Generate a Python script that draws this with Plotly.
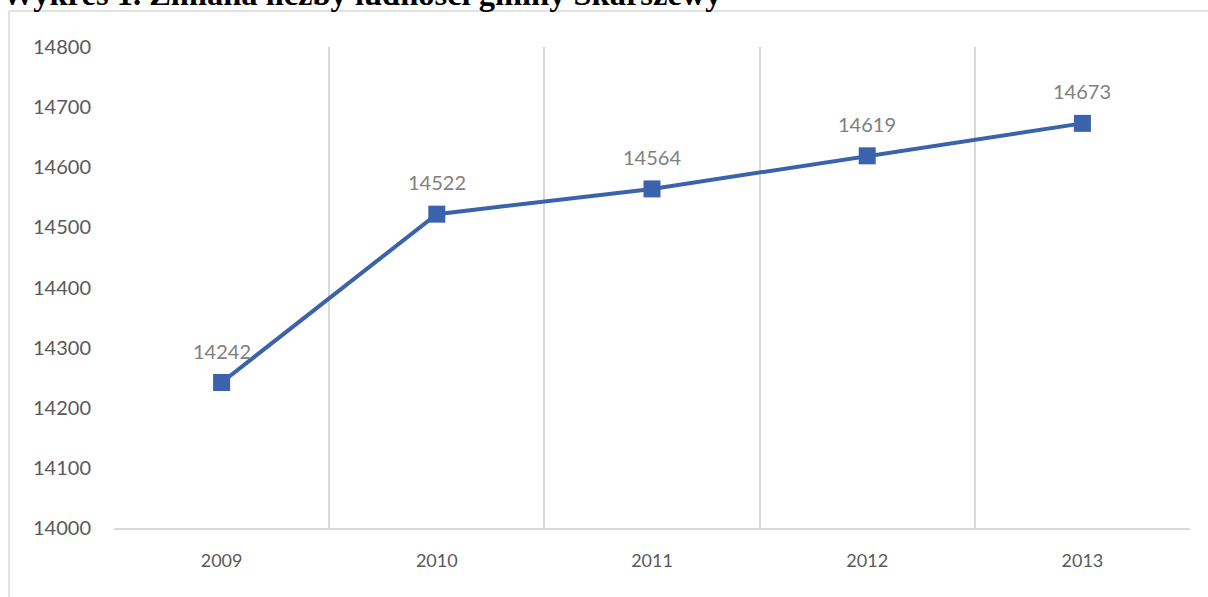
import plotly.graph_objects as go

years = ["2009", "2010", "2011", "2012", "2013"]
population = [14242, 14522, 14564, 14619, 14673]
y_ticks = [14000, 14100, 14200, 14300, 14400, 14500, 14600, 14700, 14800]
title_text = "Wykres 1. Zmiana liczby ludności gminy Skarszewy"

W, H = 1208, 597
L, R, T, B = 114, 18, 47, 69
pw, ph = W - L - R, H - T - B

def px_x(p):
    return (p - L) / pw

def px_y(p):
    return (H - B - p) / ph

line_color = "#3a62ad"
grid_color = "#d9d9d9"
font_family = "Lato, 'Open Sans', sans-serif"

fig = go.Figure()
fig.add_trace(go.Scatter(
    x=years, y=population, mode="lines+markers",
    line=dict(color=line_color, width=4),
    marker=dict(symbol="square", size=17, color=line_color),
    hoverinfo="skip", showlegend=False,
))

for i, yv in enumerate(population):
    fig.add_annotation(x=i, y=yv, text=str(yv), showarrow=False,
                       xref="x", yref="y",
                       yshift=32, font=dict(family=font_family, size=20, color="#808080"))

# chart area frame
fig.add_shape(type="line", xref="paper", yref="paper",
              x0=px_x(9), x1=px_x(9), y0=px_y(11), y1=px_y(600),
              line=dict(color=grid_color, width=1.5))
fig.add_shape(type="line", xref="paper", yref="paper",
              x0=px_x(9), x1=px_x(1215), y0=px_y(11), y1=px_y(11),
              line=dict(color=grid_color, width=1.5))

fig.add_annotation(text="<b>" + title_text + "</b>", xref="paper", yref="paper",
                   x=px_x(0), y=px_y(14), xanchor="left", yanchor="bottom",
                   showarrow=False,
                   font=dict(family="'Liberation Serif', 'Times New Roman', serif", size=32.5, color="#000000"))

fig.update_xaxes(
    type="category", range=[-0.5, 4.5], tickson="boundaries",
    showgrid=True, gridcolor=grid_color, gridwidth=1.5,
    showline=True, linecolor=grid_color, linewidth=1.5,
    ticks="", ticklabelstandoff=16,
    tickfont=dict(family=font_family, size=18, color="#595959"),
    zeroline=False,
)
fig.update_yaxes(
    range=[14000, 14800], tickvals=y_ticks, ticktext=[str(v) for v in y_ticks],
    showgrid=False, zeroline=False, showline=False, ticks="",
    ticklabelstandoff=22,
    tickfont=dict(family=font_family, size=20, color="#595959"),
)
fig.update_layout(
    width=W, height=H, margin=dict(l=L, r=R, t=T, b=B),
    paper_bgcolor="white", plot_bgcolor="white",
)
fig.write_html("out.html", config={"displayModeBar": False},
               post_script="document.body.style.margin='0';document.body.style.overflow='hidden';")
